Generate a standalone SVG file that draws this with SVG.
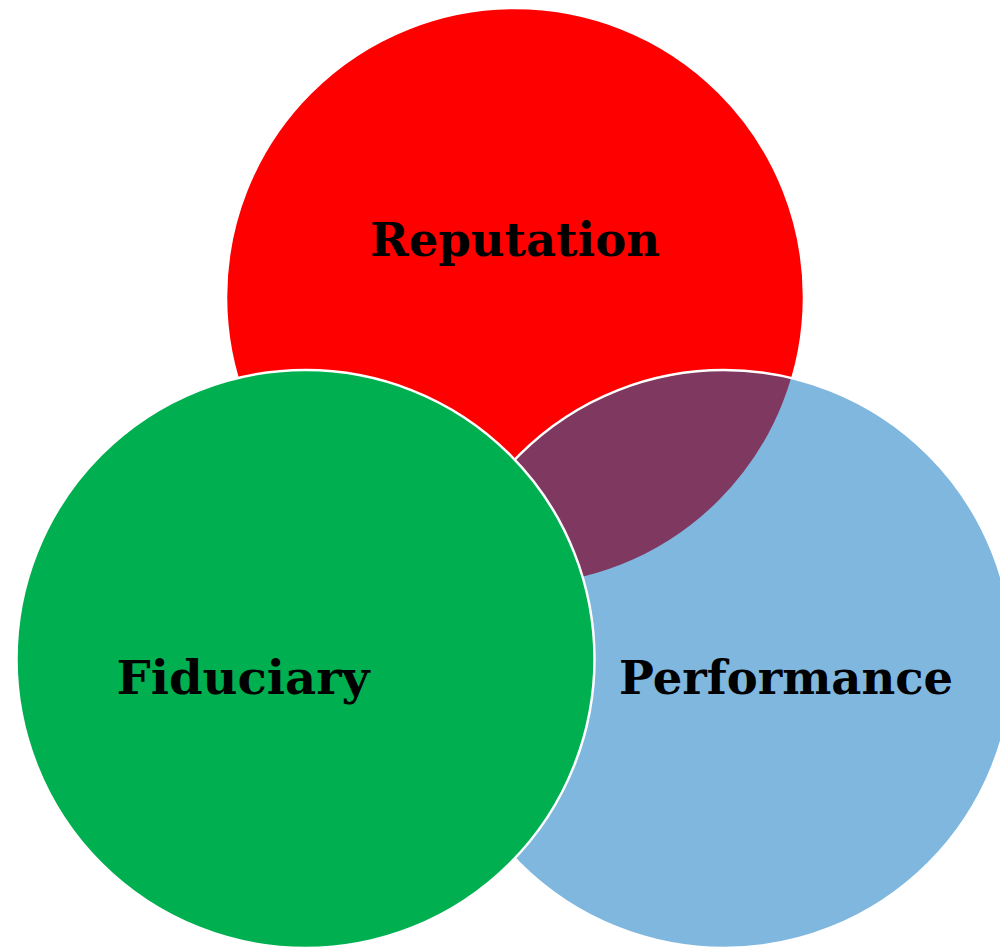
<svg xmlns="http://www.w3.org/2000/svg" width="1000" height="947" viewBox="0 0 1000 947">
  <style>
    .set { stroke: #ffffff; stroke-width: 2.5; }
    .label { font-family: "DejaVu Serif", "Liberation Serif", serif; font-weight: bold; font-size: 47px; fill: #000000; text-anchor: middle; }
  </style>
  <rect width="1000" height="947" fill="#ffffff"/>
  <g id="reputation">
    <circle class="set" cx="515" cy="297" r="289" fill="#ff0000"/>
    <text class="label" x="515" y="256" textLength="290" lengthAdjust="spacingAndGlyphs">Reputation</text>
  </g>
  <g id="performance">
    <circle class="set" cx="724" cy="659" r="289" fill="#0070c0" fill-opacity="0.5"/>
    <text class="label" x="786" y="694" textLength="334" lengthAdjust="spacingAndGlyphs">Performance</text>
  </g>
  <g id="fiduciary">
    <circle class="set" cx="305.5" cy="659" r="289" fill="#00b050"/>
    <text class="label" x="243" y="694" textLength="253" lengthAdjust="spacingAndGlyphs">Fiduciary</text>
  </g>
</svg>
